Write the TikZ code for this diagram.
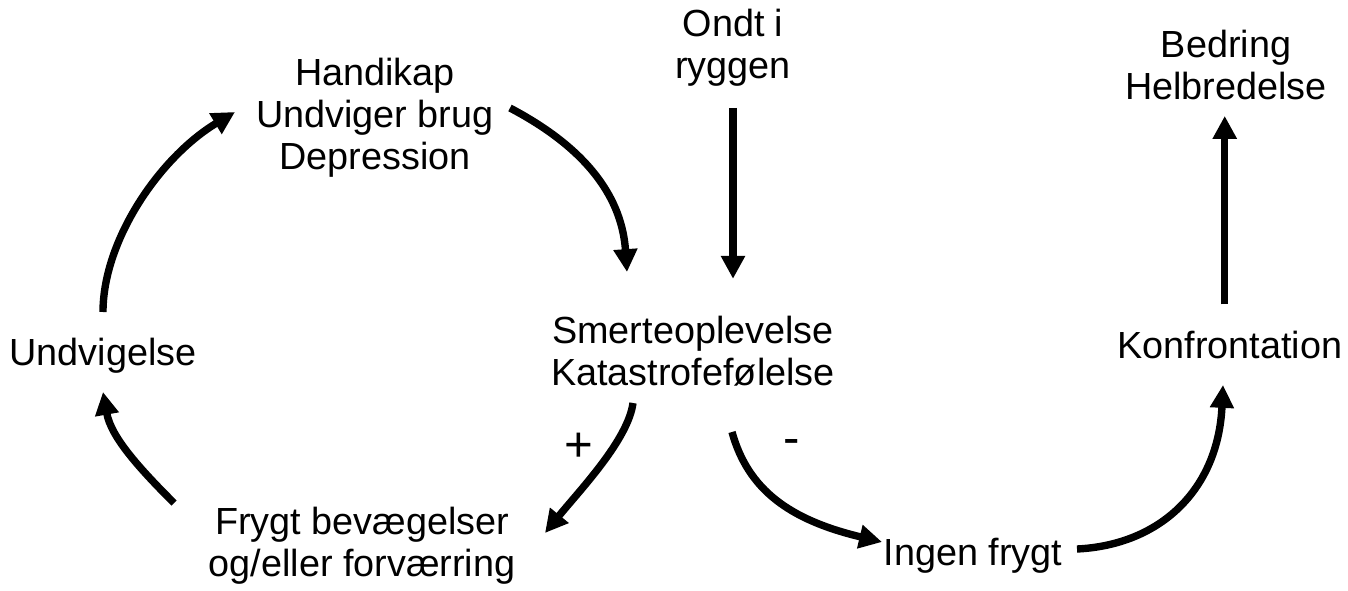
\documentclass[tikz,border=0pt]{standalone}
\usepackage{fontspec}
\setmainfont{Liberation Sans}
\usetikzlibrary{arrows.meta}

\tikzset{
    lbl/.style={align=center,inner sep=0pt,font=\fontsize{21.5}{23.8}\selectfont},
    sgn/.style={inner sep=0pt,font=\fontsize{28}{30}\selectfont},
    flow/.style={line width=4.2pt,-{Triangle[width=13pt,length=13pt]}}
}

\begin{document}
\begin{tikzpicture}[x=0.02cm,y=-0.02cm]
\useasboundingbox (0,0) rectangle (1348,591);

% texts
\node[lbl] (nOndt)  at (733,48)  {Ondt i\\ryggen};
\node[lbl] (nBedr)  at (1226,65) {Bedring\\Helbredelse};
\node[lbl] (nHand)  at (375,118) {Handikap\\Undviger brug\\Depression};
\node[lbl] (nSmer)  at (693,351) {Smerteoplevelse\\Katastrofefølelse};
\node[lbl] (nUndv)  at (103,356) {Undvigelse};
\node[lbl] (nKonf)  at (1230,345) {Konfrontation};
\node[lbl] (nFryg)  at (362,546) {Frygt bevægelser\\og/eller forværring};
\node[lbl] (nIngen) at (973,556) {Ingen frygt};
\node[sgn] (nPlus)  at (579,447) {+};
\node[sgn] (nMinus) at (792,447) {-};

% free ends of the curved arrows
\coordinate (cHandPt)   at (510,108);
\coordinate (cSmerInPt) at (627,272);
\coordinate (cUndvPt)   at (103,312);
\coordinate (cHandInPt) at (235,112);
\coordinate (cFrygPt)   at (174,503);
\coordinate (cUndvInPt) at (103,392);
\coordinate (cSmerPt)   at (633,403);
\coordinate (cFrygInPt) at (545,533);
\coordinate (cSmerBPt)  at (732,432);
\coordinate (cIngInPt)  at (882,542);
\coordinate (cIngPt)    at (1077,549);
\coordinate (cKonfInPt) at (1223,385);

\draw[flow,shorten <=12pt,shorten >=21pt] (nOndt.south) -- (nOndt.south |- nSmer.north);
\draw[flow,shorten <=15pt,shorten >=9pt] ([xshift=-3pt]nKonf.north) -- ([xshift=-3pt]nKonf.north |- nBedr.south);

\draw[flow] (cHandPt) .. controls (590,150) and (622,200) .. (cSmerInPt);
\draw[flow] (cUndvPt) .. controls (103,240) and (160,157) .. (cHandInPt);
\draw[flow] (cFrygPt) .. controls (139,468) and (111,437) .. (cUndvInPt);
\draw[flow] (cSmerPt) .. controls (628,440) and (580,490) .. (cFrygInPt);
\draw[flow] (cSmerBPt) .. controls (748,490) and (790,520) .. (cIngInPt);
\draw[flow] (cIngPt) .. controls (1160,545) and (1218,490) .. (cKonfInPt);

\end{tikzpicture}
\end{document}
